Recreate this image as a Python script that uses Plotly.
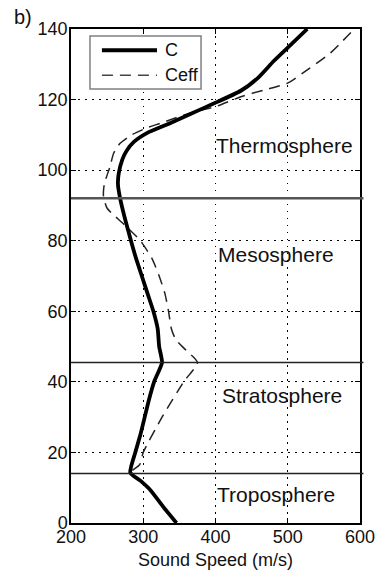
import plotly.graph_objects as go

# Altitude (km) and sound speed (m/s)
alt_c = [0, 4.5, 9.3, 12, 14.3, 20, 25, 30, 35, 40, 45.5, 50, 55, 60, 65, 70, 75, 80,
         86, 92, 96, 99, 103, 105.5, 108, 110.5, 113.3, 116, 119, 122.5, 126, 131, 135.5, 140]
c = [346, 328, 310, 296, 282, 289, 296, 302, 308, 315, 326, 322, 320, 314, 306, 298, 290, 283,
     275, 268, 265, 266, 271, 277, 287, 305, 337, 366, 399, 435, 458, 481, 504, 527]

alt_e = [0, 4.5, 9.3, 12, 14.3, 16.5, 20, 30, 40, 45.5, 49, 52, 55, 60, 65, 70, 75, 80,
         84.5, 87.3, 89.2, 92.5, 96, 101, 104.8, 107.6, 110, 112, 113.3, 116, 118, 120.8,
         122.7, 124.6, 128.4, 133.2, 140]
ceff = [346, 328, 310, 296, 282, 295, 300, 326, 356, 375, 359, 345, 339, 335, 330, 322, 312, 296,
        274, 259, 250, 245, 246, 254, 259, 268, 284, 305, 324, 362, 400, 435,
        467, 499, 527, 559, 592]

boundaries = [14, 45.5, 92]
boundary_colors = ["#222222", "#222222", "#555555"]
boundary_widths = [1.5, 1.5, 2.5]

layer_names = ["Troposphere", "Stratosphere", "Mesosphere", "Thermosphere"]
layer_x = [484, 492, 484, 495]
layer_y = [8, 36.2, 76.1, 107]

x_ticks = [200, 300, 400, 500, 600]
y_ticks = [0, 20, 40, 60, 80, 100, 120, 140]

FONT = "Liberation Sans, Arial, Helvetica, sans-serif"

fig = go.Figure()
fig.add_trace(go.Scatter(x=ceff, y=alt_e, mode="lines", name="Ceff",
                         line=dict(color="#222222", width=1.5, dash="11px,7px",
                                   shape="spline", smoothing=0.6)))
fig.add_trace(go.Scatter(x=c, y=alt_c, mode="lines", name="C",
                         line=dict(color="black", width=3.8, shape="spline", smoothing=0.5)))

shapes = []
for b, col, w in zip(boundaries, boundary_colors, boundary_widths):
    shapes.append(dict(type="line", xref="paper", yref="y", x0=0, x1=1.012, y0=b, y1=b,
                       line=dict(color=col, width=w), layer="above"))

# manual legend box
shapes.append(dict(type="rect", xref="paper", yref="paper", x0=0.0657, x1=0.45,
                   y0=0.8785, y1=0.9858, line=dict(color="#808080", width=1.5),
                   fillcolor="white", layer="above"))
shapes.append(dict(type="line", xref="paper", yref="paper", x0=0.107, x1=0.2976,
                   y0=0.957, y1=0.957, line=dict(color="black", width=3.8), layer="above"))
shapes.append(dict(type="line", xref="paper", yref="paper", x0=0.107, x1=0.2976,
                   y0=0.9064, y1=0.9064, line=dict(color="#444444", width=1.5, dash="11px,7px"),
                   layer="above"))

annotations = []
for name, xx, yy in zip(layer_names, layer_x, layer_y):
    annotations.append(dict(x=xx, y=yy, xref="x", yref="y", text=name, showarrow=False,
                            font=dict(size=21, color="#111111", family=FONT),
                            xanchor="center", yanchor="middle"))
annotations.append(dict(x=0.3183, y=0.957, xref="paper", yref="paper", text="C", showarrow=False,
                        font=dict(size=18, color="#111111", family=FONT), xanchor="left", yanchor="middle"))
annotations.append(dict(x=0.3183, y=0.9064, xref="paper", yref="paper", text="Ceff", showarrow=False,
                        font=dict(size=18, color="#111111", family=FONT), xanchor="left", yanchor="middle"))
annotations.append(dict(x=-0.165, y=1.0243, xref="paper", yref="paper", text="b)", showarrow=False,
                        font=dict(size=20, color="#111111", family=FONT), xanchor="center", yanchor="middle"))

axis_common = dict(showline=True, linecolor="black", linewidth=1.5, mirror="ticks",
                   ticks="inside", ticklen=5, tickcolor="black", tickwidth=1,
                   showgrid=True, gridcolor="black", gridwidth=1, griddash="1.5px,5.5px",
                   zeroline=False, tickfont=dict(size=18, color="#111111", family=FONT))

fig.update_layout(
    width=381, height=570,
    margin=dict(l=71, r=21, t=29, b=47),
    paper_bgcolor="white", plot_bgcolor="white",
    showlegend=False,
    shapes=shapes, annotations=annotations,
    font=dict(family=FONT, color="#111111"),
    xaxis=dict(range=[200, 600], tickvals=x_ticks, ticklabelstandoff=-3,
               title=dict(text="Sound Speed (m/s)", font=dict(size=18, family=FONT), standoff=10),
               automargin=False, **axis_common),
    yaxis=dict(range=[0, 140], tickvals=y_ticks, ticklabelstandoff=-2, automargin=False, **axis_common),
)

fig.write_html("out.html")
